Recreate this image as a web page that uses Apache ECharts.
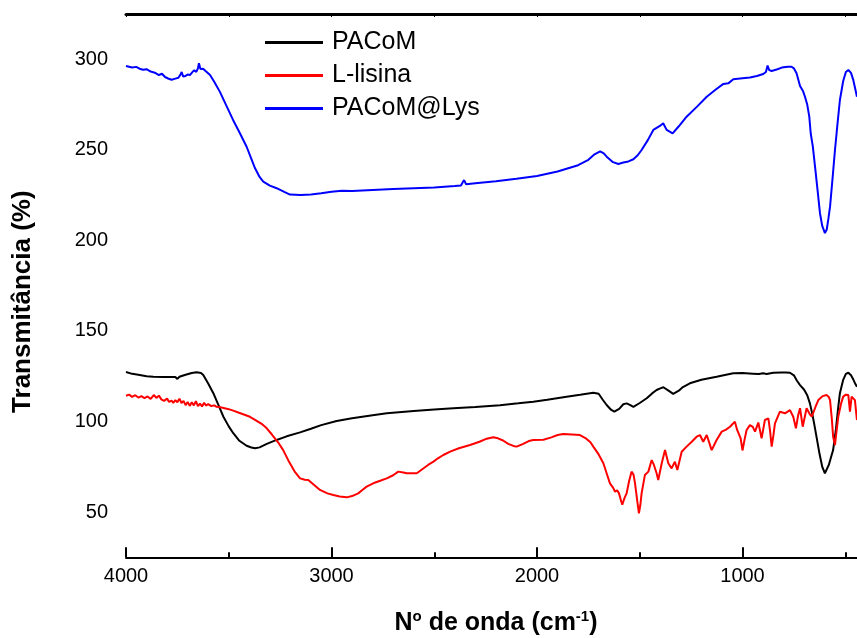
<!DOCTYPE html>
<html>
<head>
<meta charset="utf-8">
<script src="https://cdn.jsdelivr.net/npm/echarts@6/dist/echarts.min.js"></script>
<style>
html,body{margin:0;padding:0;background:#fff;}
#c{width:857px;height:638px;}
</style>
</head>
<body>
<div id="c"></div>
<script>
const seriesNames = ['PACoM', 'L-lisina', 'PACoM@Lys'];
const seriesColors = ['#000000', '#ff0000', '#0000ff'];

const pacomX = [4000,3970,3940,3900,3867,3820,3790,3760,3750,3740,3710,3680,3656,3635,3624,3600,3575,3550,3526,3500,3478,3450,3413,3390,3372,3350,3315,3267,3218,3153,3100,3050,2975,2900,2800,2731,2600,2500,2407,2300,2180,2091,2018,1950,1856,1790,1726,1700,1680,1661,1640,1624,1600,1580,1564,1548,1531,1500,1466,1440,1418,1400,1385,1360,1337,1310,1290,1256,1200,1126,1080,1045,1000,950,920,900,883,850,810,790,769,750,735,720,700,685,672,660,650,640,625,612,599,590,580,570,559,545,536,526,510,497,485,472,460,450,443];
const pacomY = [127.3,126.3,125.8,125.0,124.7,124.6,124.5,124.6,123.5,124.7,125.8,126.8,127.2,126.8,125.7,121,115.6,109,102.6,97.3,93.5,89.5,86.6,85.6,85.2,85.7,87.6,89.8,91.8,94,96,98,100.3,101.8,103.5,104.5,105.8,106.6,107.3,108.0,109.0,110,110.9,112,113.7,114.8,115.9,115.3,112,109.1,106.5,105.4,107,109.5,110,109.2,108.1,110.2,112.8,115.5,117.4,118.3,118.9,117,115.2,117,119,121.1,123.0,124.7,125.8,126.6,126.7,126.4,126.2,126.6,126.2,126.9,127.0,127.0,126.9,125.5,122.5,120.1,117.5,114.5,110,104,98,91.6,82,75,71.4,72.5,76,80,84.2,96,106,115.6,123,126.3,126.9,125.5,123,120.5,119.2];

const lisinaX = [4000,3985,3970,3955,3940,3925,3910,3895,3880,3865,3851,3840,3828,3815,3800,3790,3778,3770,3760,3750,3740,3730,3720,3710,3700,3690,3680,3670,3660,3650,3640,3630,3620,3610,3600,3585,3570,3559,3540,3520,3500,3478,3450,3420,3397,3370,3340,3315,3290,3260,3235,3210,3180,3153,3130,3113,3090,3056,3020,2991,2960,2926,2900,2870,2850,2829,2790,2760,2731,2700,2675,2650,2634,2600,2585,2560,2530,2504,2480,2456,2420,2380,2326,2280,2250,2213,2190,2165,2140,2115,2099,2070,2040,2018,1969,1930,1900,1872,1830,1791,1760,1740,1726,1700,1677,1660,1645,1630,1620,1610,1601,1593,1585,1575,1564,1552,1540,1530,1523,1512,1504,1497,1491,1475,1458,1442,1431,1418,1410,1393,1377,1361,1345,1329,1317,1296,1272,1247,1223,1207,1191,1174,1150,1126,1101,1080,1061,1037,1026,1009,1000,990,980,964,950,939,923,907,891,874,866,858,850,842,818,793,769,753,740,730,720,707,688,675,663,645,631,610,591,580,574,565,559,550,542,534,520,510,497,485,477,469,453,443];
const lisinaY = [114.2,114.8,113.6,114.5,113.2,114.0,112.9,113.8,112.5,114.6,113.0,114.3,112.2,111.4,112.6,110.8,111.5,110.3,111.8,110.6,112.6,110.2,111.4,109.0,110.8,108.6,110.6,108.9,111.2,108.5,109.8,108.3,110.3,108.8,109.6,108.5,108.9,108.1,107.8,107.3,106.8,106.0,104.8,103.6,102.6,100.8,98.7,96.2,92.8,88.5,84.2,78.5,72.5,68.6,67.8,67.7,65.5,62.2,60.3,59.4,58.6,58.1,58.8,60.3,62.2,64.0,66.2,67.4,68.6,70.3,72.3,71.8,71.4,71.4,71.4,73.5,76.0,77.8,79.8,81.5,83.5,85.2,87.0,88.8,90.3,91.3,90.7,89.5,87.6,86.5,86.1,87.5,89.2,89.8,89.9,91.2,92.5,93.1,92.8,92.5,90.5,88.5,86.1,81.8,76.9,71,65.8,63.5,61.2,62,60.3,57,54.0,57.5,60.3,67,72.3,70.5,65.8,56,49.3,54,60.3,70.4,72.3,78.7,76,71.4,67.7,76.9,84.2,76.9,74.1,77.8,73.2,83.3,86.1,88.8,91.6,92.5,88.8,92.5,84.2,89.8,94.4,95.5,97.1,99.9,95.3,90.7,84,90,95.3,98,97,94.4,99.4,90.7,100.8,101.7,95,86.1,92,99,105.4,104.5,106.3,102.6,96.2,103,107.3,97.1,107.3,104.5,102.6,108,111.8,114,114.6,113.5,111.8,101,91.6,87,95,102.6,110,113.7,114.8,114.6,105.4,113.7,111.8,100.8];

const lysX = [4000,3970,3950,3930,3917,3900,3880,3860,3840,3825,3810,3795,3778,3760,3745,3735,3729,3722,3710,3700,3689,3678,3668,3658,3650,3645,3638,3625,3610,3591,3570,3543,3510,3479,3445,3413,3390,3372,3350,3332,3300,3267,3230,3202,3150,3100,3050,3000,2950,2900,2800,2700,2600,2500,2400,2370,2355,2345,2300,2200,2100,2000,1900,1800,1750,1720,1693,1675,1661,1630,1604,1580,1555,1531,1510,1491,1460,1434,1402,1386,1369,1340,1310,1272,1220,1174,1130,1093,1069,1045,1000,964,930,899,886,878,870,858,830,809,780,761,750,737,720,705,696,685,675,668,658,647,635,623,612,599,590,582,574,562,550,538,526,510,497,485,472,461,452,443];
const lysY = [296.3,295.5,295.8,294.6,294.2,294.5,293.2,292.6,291.3,292.0,290.2,289.4,288.7,289.3,289.8,291.5,293.0,290.5,290.8,291.6,291.3,292.8,294.0,293.0,295.0,297.8,294.6,294.8,293.2,291.3,287.5,282,274,266.5,259,251.7,245,239.8,235,232.4,230.2,228.8,226.8,225.3,225.0,225.3,226.0,226.8,227.4,227.3,227.8,228.3,228.8,229.2,230.0,230.3,233.3,231.0,231.5,232.6,234.0,235.6,238.0,241.5,244.5,247.5,249.2,248.0,246.2,243.2,242.2,243.0,243.6,244.8,247.0,249.9,255.5,261,263.2,264.7,261,259.1,263,268.3,274,279.3,283.3,286.4,286.7,289,289.5,289.9,290.8,291.9,293.0,296.5,294.0,293.5,294.5,295.4,295.9,295.9,295.0,292.3,285.3,282.3,279.3,275,268.3,259,252,240.7,228,215,208,204.0,206,212,218.6,234,249.9,264,277.5,288,293,294.1,292.5,288.6,284,279.3];

const xTickLabels = [4000, 3000, 2000, 1000];
const yTickLabels = [50, 100, 150, 200, 250, 300];

function pairs(xs, ys) { return xs.map((x, i) => [x, ys[i]]); }
const seriesData = [pairs(pacomX, pacomY), pairs(lisinaX, lisinaY), pairs(lysX, lysY)];

const FONT = '"Liberation Sans", Arial, sans-serif';
const chart = echarts.init(document.getElementById('c'), null, {renderer: 'canvas'});

chart.setOption({
  animation: false,
  backgroundColor: '#ffffff',
  grid: {left: 126, top: 14, width: 822, height: 543.3, containLabel: false, outerBoundsMode: 'none'},
  legend: {
    data: seriesNames,
    orient: 'vertical',
    left: 260,
    top: 25,
    icon: 'rect',
    itemWidth: 58,
    itemHeight: 3,
    itemGap: 8,
    textStyle: {fontFamily: FONT, fontSize: 25, color: '#000', lineHeight: 24, padding: [0, 0, 0, 4]}
  },
  xAxis: [{
    type: 'value',
    inverse: true,
    min: 0,
    max: 4000,
    interval: 1000,
    position: 'bottom',
    name: 'N{s|o} de onda (cm{s|-1})',
    nameLocation: 'middle',
    nameGap: 52,
    nameTextStyle: {
      fontFamily: FONT, fontSize: 25, fontWeight: 'bold', color: '#000',
      padding: [0, 82, 0, 0],
      rich: {s: {fontFamily: FONT, fontSize: 15, fontWeight: 'bold', color: '#000', verticalAlign: 'top', padding: [0, 0, 12, 0]}}
    },
    axisLine: {show: true, lineStyle: {color: '#000', width: 2}},
    axisTick: {show: true, inside: true, length: 10, lineStyle: {color: '#000', width: 2}},
    minorTick: {show: true, splitNumber: 2, length: 5, lineStyle: {color: '#000', width: 2}},
    axisLabel: {customValues: xTickLabels, formatter: v => String(v), fontFamily: FONT, fontSize: 20, color: '#000', margin: 9},
    splitLine: {show: false}
  }, {
    type: 'value',
    inverse: true,
    min: 0,
    max: 4000,
    interval: 500,
    position: 'top',
    axisLine: {show: true, lineStyle: {color: '#000', width: 3}},
    axisTick: {show: true, inside: true, length: 3, lineStyle: {color: '#000', width: 1}},
    axisLabel: {show: false},
    splitLine: {show: false}
  }],
  yAxis: [{
    type: 'value',
    min: 25,
    max: 325,
    interval: 50,
    position: 'left',
    name: 'Transmitância (%)',
    nameLocation: 'middle',
    nameRotate: 90,
    nameGap: 90,
    nameTextStyle: {fontFamily: FONT, fontSize: 26, fontWeight: 'bold', color: '#000', padding: [0, 32, 0, 0]},
    axisLine: {show: true, lineStyle: {color: '#000', width: 2}},
    axisTick: {show: true, inside: false, length: 4, lineStyle: {color: '#000', width: 2}},
    minorTick: {show: true, splitNumber: 2, length: 10, lineStyle: {color: '#000', width: 2}},
    axisLabel: {customValues: yTickLabels, fontFamily: FONT, fontSize: 20, color: '#000', margin: 18},
    splitLine: {show: false}
  }],
  series: seriesNames.map((n, i) => ({
    name: n,
    type: 'line',
    xAxisIndex: 0,
    yAxisIndex: 0,
    data: seriesData[i],
    showSymbol: false,
    symbol: 'none',
    color: seriesColors[i],
    lineStyle: {color: seriesColors[i], width: 2},
    clip: true
  }))
});
</script>
</body>
</html>
